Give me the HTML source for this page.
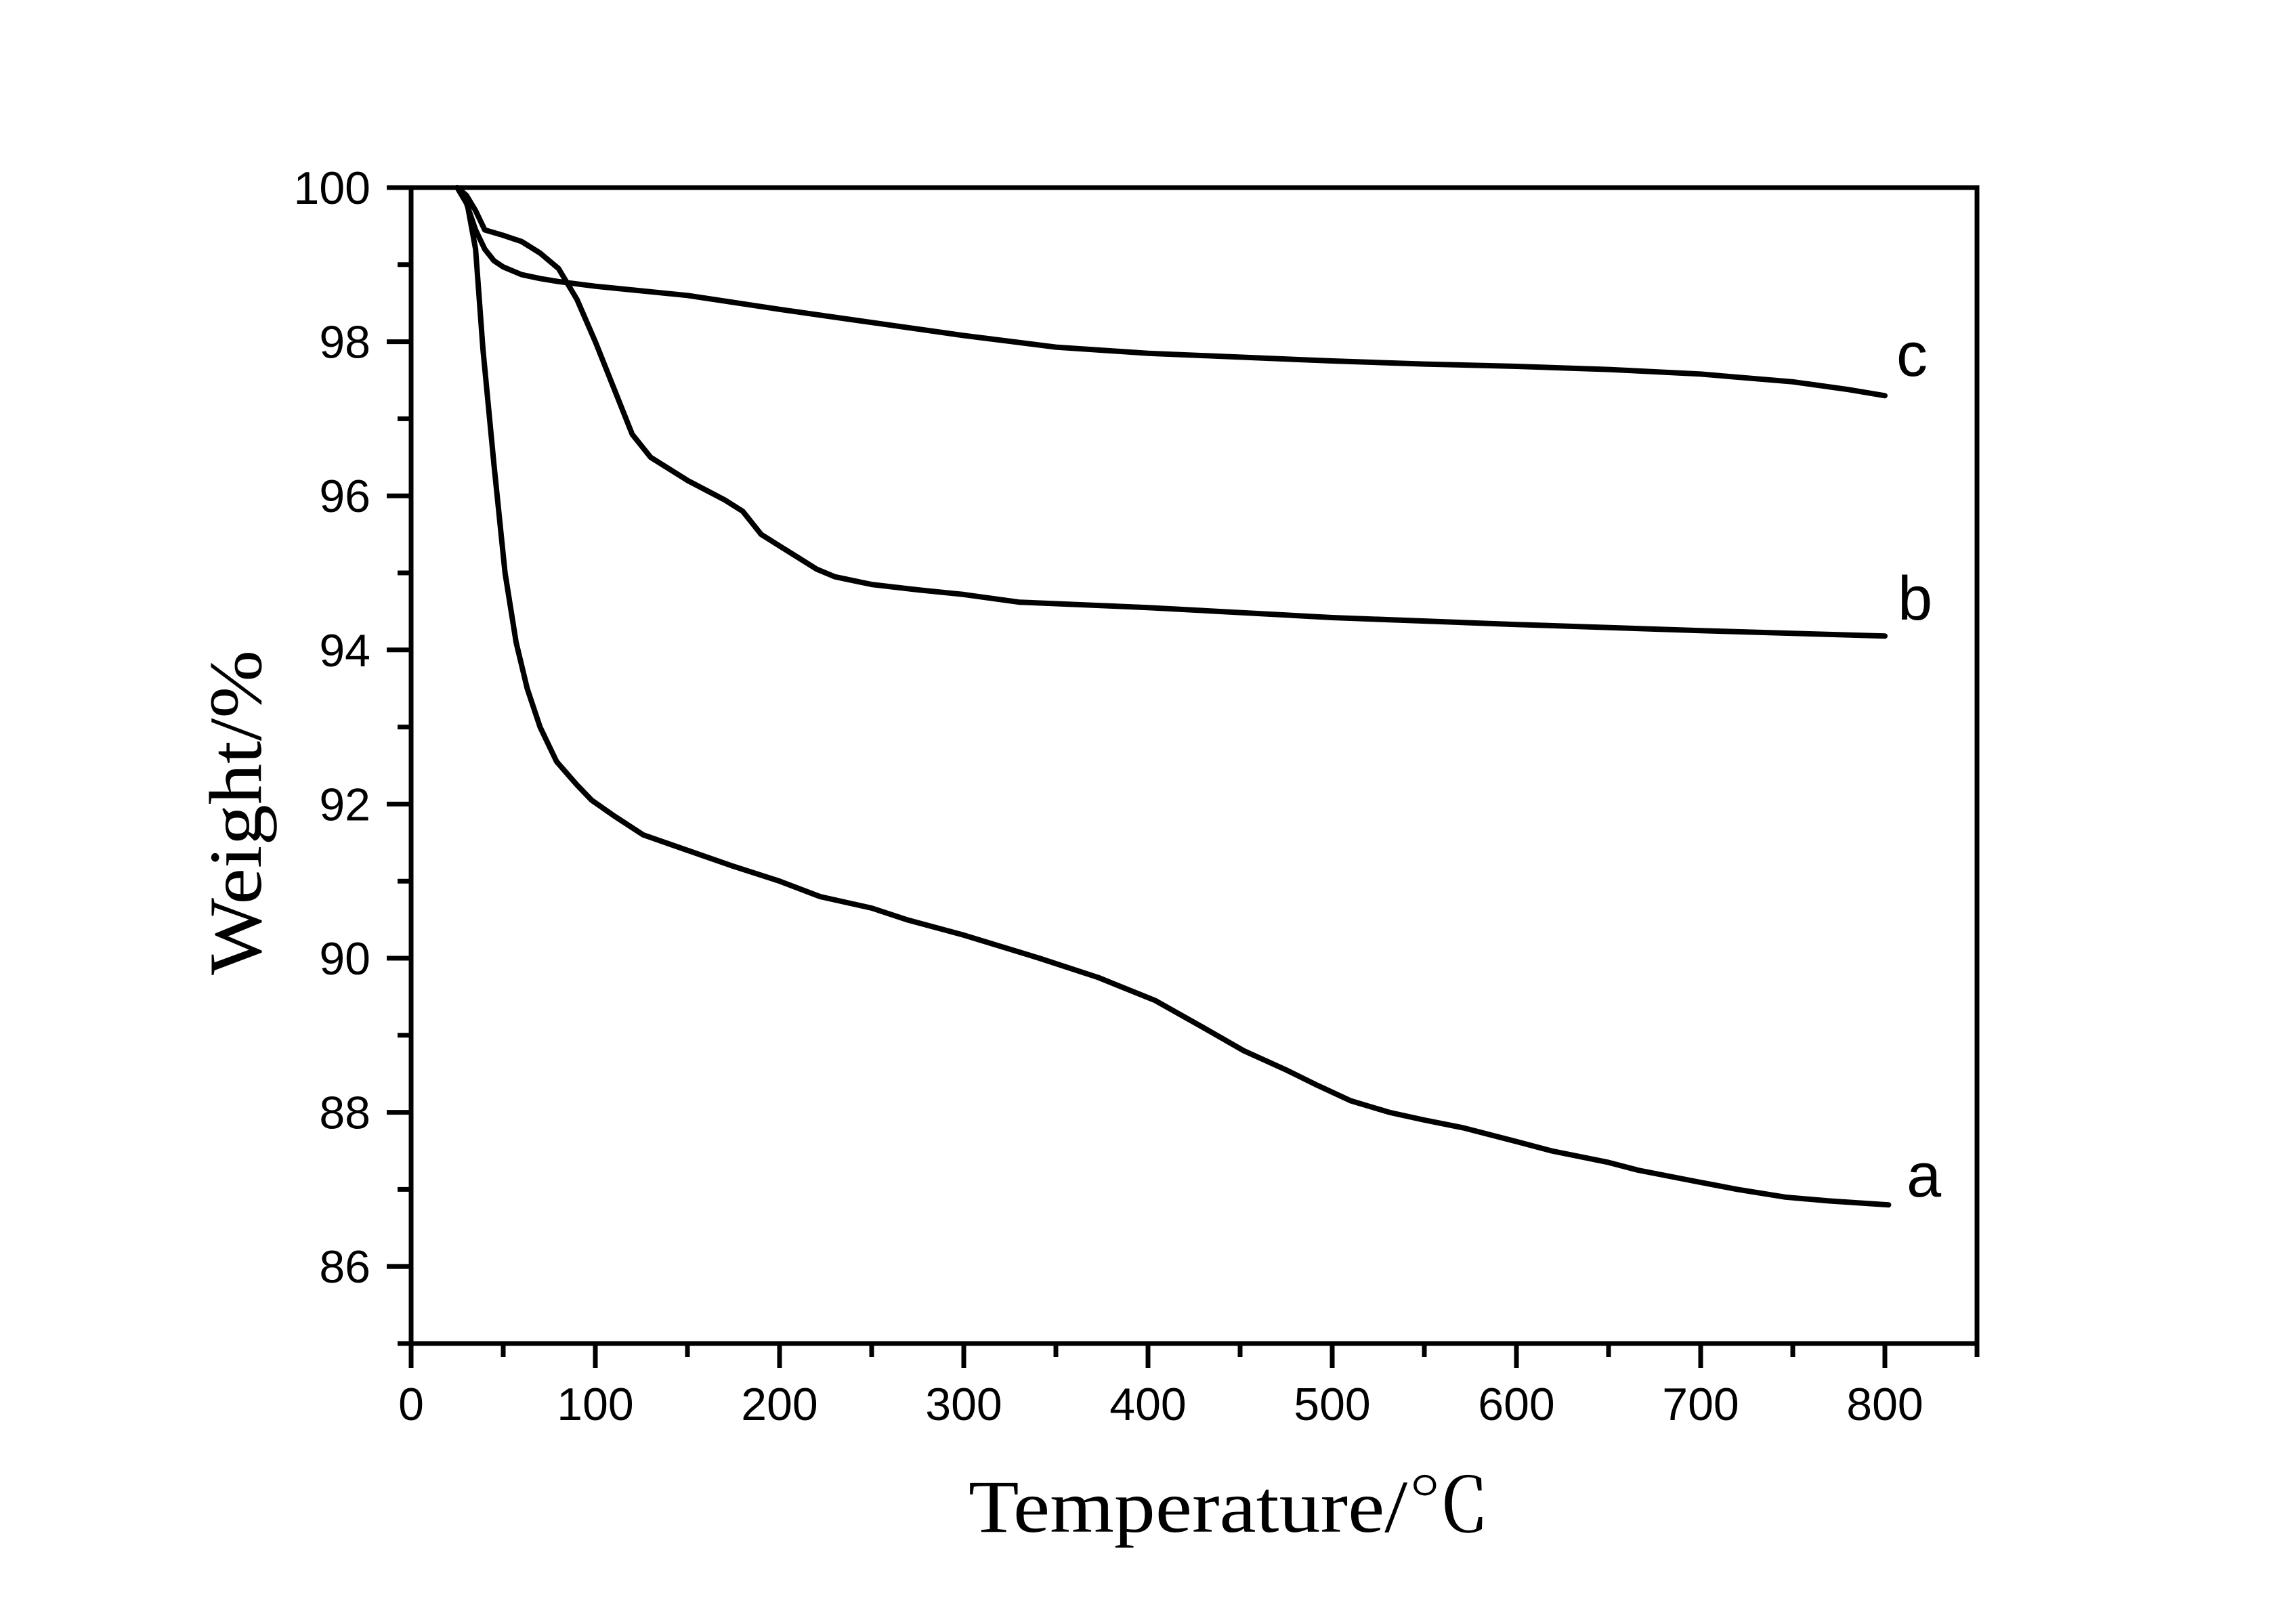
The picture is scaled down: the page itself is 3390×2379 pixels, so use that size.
<!DOCTYPE html>
<html><head><meta charset="utf-8"><style>html,body{margin:0;padding:0;background:#fff;}svg{display:block;}</style></head>
<body>
<svg id="chart" width="3390" height="2379" viewBox="0 0 3390 2379" xmlns="http://www.w3.org/2000/svg">
<rect x="0" y="0" width="3390" height="2379" fill="#fff"/>
<g id="marks"></g>
<g id="axes"></g>
</svg>
<script>
const tempA = [25,30,35,39,45,51,57,63,70,79,90,98,110,126,150,174,200,222,250,269,300,341,373,404,430,452,475,492,510,531,550,571,600,619,650,666,698,720,746,770,802];
const weightA = [100,99.85,99.2,97.9,96.4,95.0,94.1,93.5,93.0,92.55,92.25,92.05,91.85,91.6,91.4,91.2,91.0,90.8,90.65,90.5,90.3,90.0,89.75,89.45,89.1,88.8,88.55,88.35,88.15,88.0,87.9,87.8,87.62,87.5,87.35,87.25,87.1,87.0,86.9,86.85,86.8];
const tempB = [25,30,35,40,50,60,70,80,90,100,110,120,130,150,170,180,185,190,200,210,220,230,250,275,300,330,400,500,600,700,800];
const weightB = [100,99.9,99.7,99.45,99.38,99.3,99.15,98.95,98.55,98.0,97.4,96.8,96.5,96.2,95.95,95.8,95.65,95.5,95.35,95.2,95.05,94.95,94.85,94.78,94.72,94.62,94.55,94.42,94.33,94.25,94.18];
const tempC = [25,30,35,40,45,50,60,70,80,100,150,200,250,300,350,400,450,500,550,600,650,700,750,780,800];
const weightC = [100,99.8,99.45,99.2,99.05,98.97,98.87,98.82,98.78,98.72,98.6,98.42,98.25,98.08,97.93,97.85,97.8,97.75,97.71,97.68,97.64,97.58,97.48,97.38,97.3];
const xMajorTicks = [0,100,200,300,400,500,600,700,800];
const xMinorTicks = [50,150,250,350,450,550,650,750,850];
const yMajorTicks = [86,88,90,92,94,96,98,100];
const yMinorTicks = [85,87,89,91,93,95,97,99];

const L=607,R=2919,T=277,B=1984,XMIN=0,XMAX=850,YMIN=85,YMAX=100;
function xs(v){return L+(v-XMIN)/(XMAX-XMIN)*(R-L);}
function ys(v){return B-(v-YMIN)/(YMAX-YMIN)*(B-T);}
const NS='http://www.w3.org/2000/svg';
const marks=document.getElementById('marks'), axes=document.getElementById('axes');
function mk(tag,attrs,parent){const e=document.createElementNS(NS,tag);for(const k in attrs)e.setAttribute(k,attrs[k]);parent.appendChild(e);return e;}

function curve(xsArr,ysArr,name){
  const d=xsArr.map((t,i)=>(i?'L':'M')+xs(t).toFixed(1)+','+ys(ysArr[i]).toFixed(1)).join(' ');
  const p=mk('path',{d:d,fill:'none',stroke:'#000','stroke-width':8,'stroke-linejoin':'round','stroke-linecap':'round'},marks);
  
  
}
curve(tempA,weightA,'curve-a');
curve(tempB,weightB,'curve-b');
curve(tempC,weightC,'curve-c');

const frame=mk('rect',{x:L,y:T,width:R-L,height:B-T,fill:'none',stroke:'#000','stroke-width':7},axes);



xMajorTicks.forEach(v=>{
  const t=mk('line',{x1:xs(v),x2:xs(v),y1:B,y2:B+36,stroke:'#000','stroke-width':7},axes);
  
  
  const lb=mk('text',{x:xs(v),y:2097,'text-anchor':'middle','font-family':'Liberation Sans, sans-serif','font-size':68},axes);
  lb.textContent=v;
  
  
});
xMinorTicks.forEach(v=>{
  const t=mk('line',{x1:xs(v),x2:xs(v),y1:B,y2:B+20,stroke:'#000','stroke-width':7},axes);
  
  
});
yMajorTicks.forEach(v=>{
  const t=mk('line',{x1:L-36,x2:L,y1:ys(v),y2:ys(v),stroke:'#000','stroke-width':7},axes);
  
  
  const lb=mk('text',{x:547,y:ys(v)+24,'text-anchor':'end','font-family':'Liberation Sans, sans-serif','font-size':68},axes);
  lb.textContent=v;
  
  
});
yMinorTicks.forEach(v=>{
  const t=mk('line',{x1:L-20,x2:L,y1:ys(v),y2:ys(v),stroke:'#000','stroke-width':7},axes);
  
  
});
</script>
<svg style="position:absolute;left:0;top:0" width="3390" height="2379">
<text x="2800" y="555" font-family="Liberation Sans, sans-serif" font-size="92">c</text>
<text x="2802" y="915" font-family="Liberation Sans, sans-serif" font-size="92">b</text>
<text x="2815" y="1767" font-family="Liberation Sans, sans-serif" font-size="92">a</text>
<text x="1430" y="2262" textLength="770" lengthAdjust="spacingAndGlyphs" font-family="Liberation Serif, Noto Serif CJK SC, serif" font-size="110">Temperature/℃</text>
<text transform="translate(385,1440) rotate(-90)" x="0" y="0" textLength="480" lengthAdjust="spacingAndGlyphs" font-family="Liberation Serif, Noto Serif CJK SC, serif" font-size="110">Weight/%</text>
</svg>
</body></html>
